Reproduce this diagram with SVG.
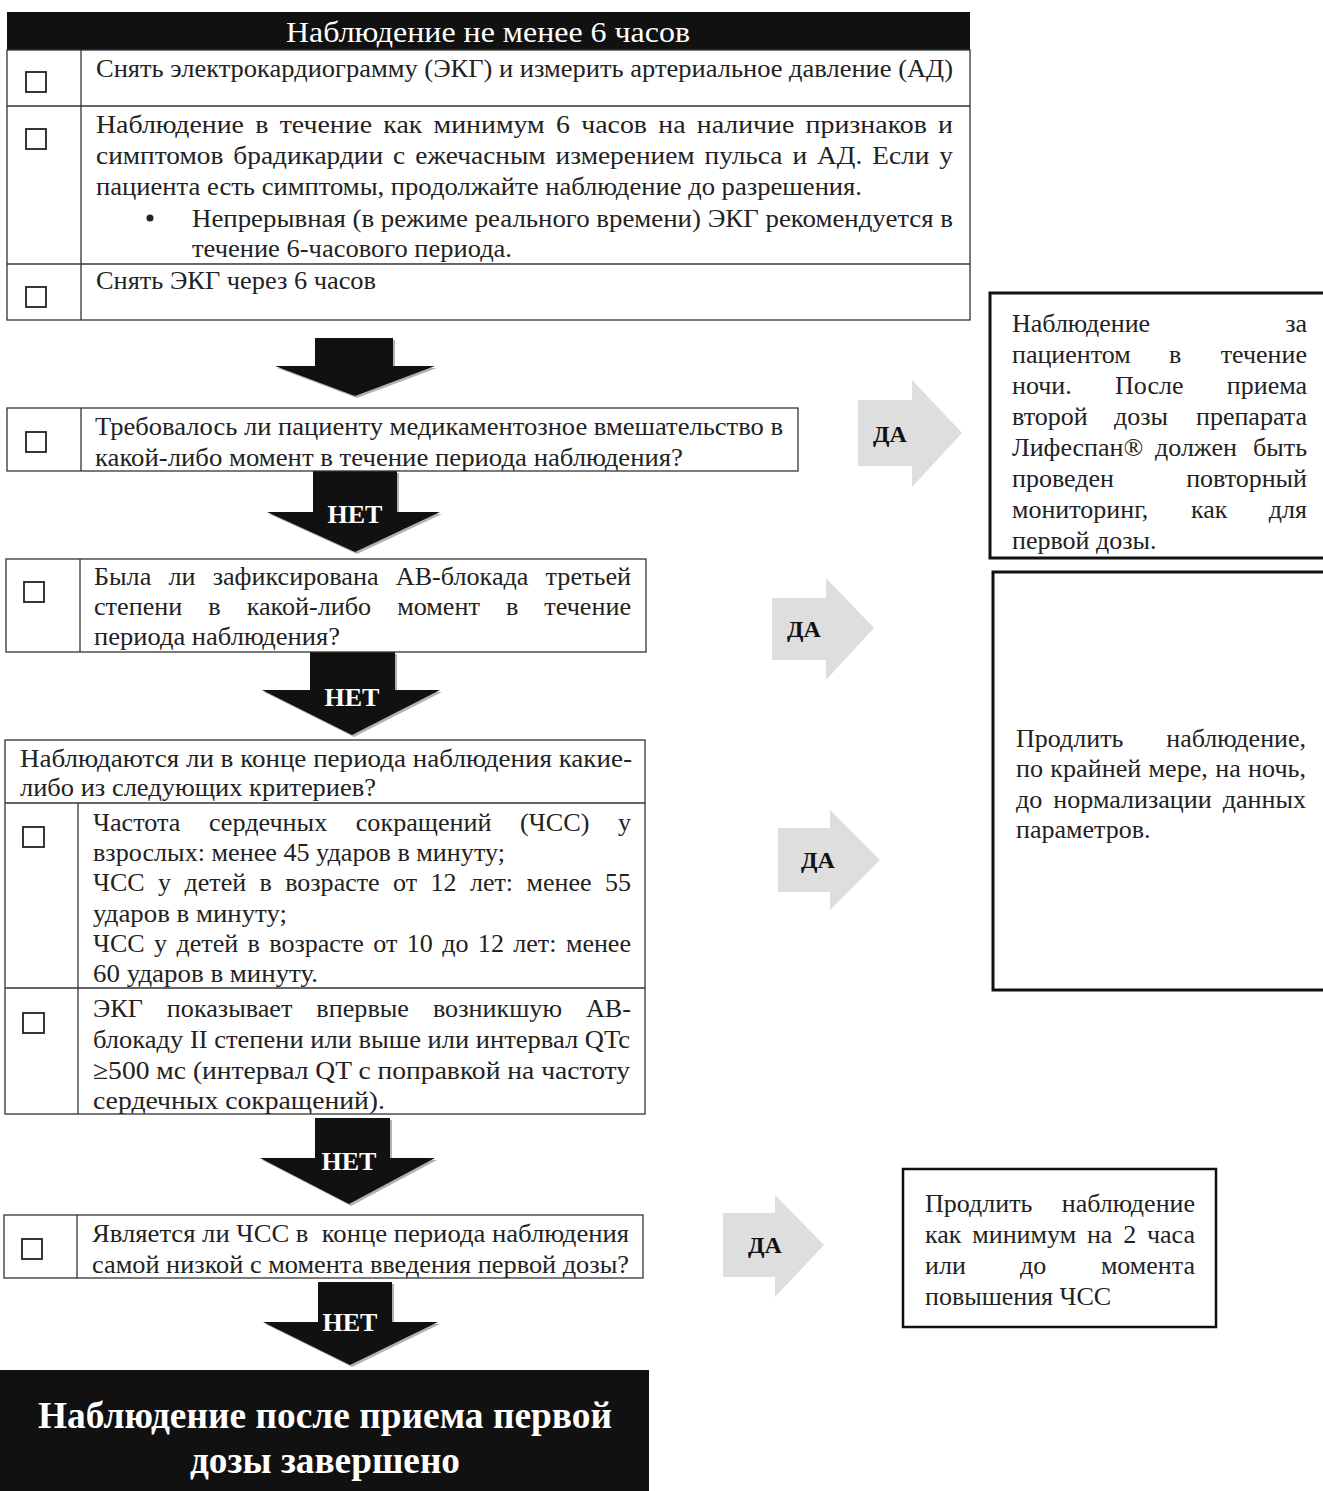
<svg xmlns="http://www.w3.org/2000/svg" width="1323" height="1491" viewBox="0 0 1323 1491">
<style>
.t{font-family:"Liberation Serif","Times New Roman",serif;font-size:26px;fill:#222}
.r{font-family:"Liberation Serif","Times New Roman",serif;font-size:26px;fill:#222}
.b{stroke:#333;stroke-width:1.3;fill:none}
.cb{stroke:#222;stroke-width:1.8;fill:#fff}
.rb{stroke:#111;stroke-width:3;fill:#fff}
.net{font-family:"Liberation Serif","Times New Roman",serif;font-weight:bold;font-size:26px;fill:#fff;text-anchor:middle}
.da{font-family:"Liberation Serif","Times New Roman",serif;font-weight:bold;font-size:24px;fill:#111;text-anchor:middle}
.ba{fill:#111}
.sh{fill:#666;opacity:.5}
.ga{fill:#dedede}
.e{text-anchor:end}
</style>
<rect width="1323" height="1491" fill="#fff"/>

<g id="connectors">
  <path class="sh" d="M317,340 H395 V368 H437 L357,398 L277,368 H317 Z"/>
  <path class="ba" d="M315,338 H393 V366 H435 L355,396 L275,366 H315 Z"/>
  <path class="sh" d="M315,473 H399 V514 H442 L357,554 L269,514 H315 Z"/>
  <path class="ba" d="M313,471 H397 V512 H440 L355,552 L267,512 H313 Z"/>
  <text class="net" x="355" y="523">НЕТ</text>
  <path class="sh" d="M312,654 H397 V692 H442 L354,737 L264,692 H312 Z"/>
  <path class="ba" d="M310,652 H395 V690 H440 L352,735 L262,690 H310 Z"/>
  <text class="net" x="352" y="706">НЕТ</text>
  <path class="sh" d="M317,1120 H392 V1160 H437 L351,1206 L262,1160 H317 Z"/>
  <path class="ba" d="M315,1118 H390 V1158 H435 L349,1204 L260,1158 H315 Z"/>
  <text class="net" x="349" y="1170">НЕТ</text>
  <path class="sh" d="M320,1284 H394 V1324 H440 L352,1367 L265,1324 H320 Z"/>
  <path class="ba" d="M318,1282 H392 V1322 H438 L350,1365 L263,1322 H318 Z"/>
  <text class="net" x="350" y="1331">НЕТ</text>

  <path class="ga" d="M858,400 H912 V380 L962,433 L912,487 V466 H858 Z"/>
  <text class="da" x="890" y="442">ДА</text>
  <path class="ga" d="M772,598 H826 V578 L874,628 L826,680 V660 H772 Z"/>
  <text class="da" x="804" y="637">ДА</text>
  <path class="ga" d="M778,828 H830 V810 L880,860 L830,910 V892 H778 Z"/>
  <text class="da" x="818" y="868">ДА</text>
  <path class="ga" d="M723,1213 H775 V1195 L824,1245 L775,1297 V1277 H723 Z"/>
  <text class="da" x="765" y="1253">ДА</text>
</g>

<g id="n-top">
  <rect x="7" y="12" width="963" height="38" fill="#111"/>
  <text x="488" y="42" text-anchor="middle" style="font-family:'Liberation Serif',serif;font-size:30px;fill:#fff" textLength="404" lengthAdjust="spacingAndGlyphs">Наблюдение не менее 6 часов</text>
  <rect class="b" x="7" y="50" width="963" height="270"/>
  <line class="b" x1="7" y1="106" x2="970" y2="106"/>
  <line class="b" x1="7" y1="264" x2="970" y2="264"/>
  <line class="b" x1="81" y1="50" x2="81" y2="320"/>
  <rect class="cb" x="26" y="72" width="20" height="20"/>
  <rect class="cb" x="26" y="129" width="20" height="20"/>
  <rect class="cb" x="26" y="287" width="20" height="20"/>
  <text class="t" x="96" y="77" textLength="857" lengthAdjust="spacingAndGlyphs">Снять электрокардиограмму (ЭКГ) и измерить артериальное давление (АД)</text>
  <text class="t" x="96" y="133" textLength="857" lengthAdjust="spacingAndGlyphs" word-spacing="4">Наблюдение в течение как минимум 6 часов на наличие признаков и</text>
  <text class="t" x="96" y="164" textLength="857" lengthAdjust="spacingAndGlyphs" word-spacing="3">симптомов брадикардии с ежечасным измерением пульса и АД. Если у</text>
  <text class="t" x="96" y="195" textLength="766" lengthAdjust="spacingAndGlyphs">пациента есть симптомы, продолжайте наблюдение до разрешения.</text>
  <circle cx="150" cy="218" r="3.5" fill="#222"/>
  <text class="t" x="192" y="227" textLength="761" lengthAdjust="spacingAndGlyphs">Непрерывная (в режиме реального времени) ЭКГ рекомендуется в</text>
  <text class="t" x="192" y="257" textLength="320" lengthAdjust="spacingAndGlyphs">течение 6-часового периода.</text>
  <text class="t" x="96" y="289" textLength="280" lengthAdjust="spacingAndGlyphs">Снять ЭКГ через 6 часов</text>
</g>

<g id="n-q1">
  <rect class="b" x="7" y="408" width="791" height="63"/>
  <line class="b" x1="81" y1="408" x2="81" y2="471"/>
  <rect class="cb" x="26" y="432" width="20" height="20"/>
  <text class="t" x="95" y="435" textLength="688" lengthAdjust="spacingAndGlyphs">Требовалось ли пациенту медикаментозное вмешательство в</text>
  <text class="t" x="95" y="466" textLength="588" lengthAdjust="spacingAndGlyphs">какой-либо момент в течение периода наблюдения?</text>
</g>

<g id="n-q2">
  <rect class="b" x="6" y="559" width="640" height="93"/>
  <line class="b" x1="80" y1="559" x2="80" y2="652"/>
  <rect class="cb" x="24" y="582" width="20" height="20"/>
  <text class="t" x="94" y="585" word-spacing="10.6" textLength="537" lengthAdjust="spacingAndGlyphs">Была ли зафиксирована АВ-блокада третьей</text>
  <text class="t" x="94" y="615" word-spacing="19.4" textLength="537" lengthAdjust="spacingAndGlyphs">степени в какой-либо момент в течение</text>
  <text class="t" x="94" y="645" textLength="246" lengthAdjust="spacingAndGlyphs">периода наблюдения?</text>
</g>

<g id="n-q3">
  <rect class="b" x="5" y="740" width="640" height="374"/>
  <line class="b" x1="5" y1="803" x2="645" y2="803"/>
  <line class="b" x1="5" y1="988" x2="645" y2="988"/>
  <line class="b" x1="78" y1="803" x2="78" y2="1114"/>
  <text class="t" x="20" y="767" textLength="612" lengthAdjust="spacingAndGlyphs">Наблюдаются ли в конце периода наблюдения какие-</text>
  <text class="t" x="20" y="796" textLength="356" lengthAdjust="spacingAndGlyphs">либо из следующих критериев?</text>
  <rect class="cb" x="23" y="827" width="21" height="20"/>
  <rect class="cb" x="23" y="1013" width="21" height="20"/>
  <text class="t" x="93" y="831" word-spacing="21.9" textLength="538" lengthAdjust="spacingAndGlyphs">Частота сердечных сокращений (ЧСС) у</text>
  <text class="t" x="93" y="861" textLength="412" lengthAdjust="spacingAndGlyphs">взрослых: менее 45 ударов в минуту;</text>
  <text class="t" x="93" y="891" word-spacing="6.9" textLength="538" lengthAdjust="spacingAndGlyphs">ЧСС у детей в возрасте от 12 лет: менее 55</text>
  <text class="t" x="93" y="922" textLength="194" lengthAdjust="spacingAndGlyphs">ударов в минуту;</text>
  <text class="t" x="93" y="952" word-spacing="2.9" textLength="538" lengthAdjust="spacingAndGlyphs">ЧСС у детей в возрасте от 10 до 12 лет: менее</text>
  <text class="t" x="93" y="982" textLength="225" lengthAdjust="spacingAndGlyphs">60 ударов в минуту.</text>
  <text class="t" x="93" y="1017" word-spacing="17.3" textLength="538" lengthAdjust="spacingAndGlyphs">ЭКГ показывает впервые возникшую АВ-</text>
  <text class="t" x="93" y="1048" textLength="537" lengthAdjust="spacingAndGlyphs">блокаду II степени или выше или интервал QTc</text>
  <text class="t" x="93" y="1079" textLength="537" lengthAdjust="spacingAndGlyphs">≥500 мс (интервал QT с поправкой на частоту</text>
  <text class="t" x="93" y="1109" textLength="292" lengthAdjust="spacingAndGlyphs">сердечных сокращений).</text>
</g>

<g id="n-q4">
  <rect class="b" x="4" y="1215" width="639" height="63"/>
  <line class="b" x1="77" y1="1215" x2="77" y2="1278"/>
  <rect class="cb" x="22" y="1239" width="20" height="20"/>
  <text class="t" x="92" y="1242" textLength="537" lengthAdjust="spacingAndGlyphs" xml:space="preserve">Является ли ЧСС в  конце периода наблюдения</text>
  <text class="t" x="92" y="1273" textLength="537" lengthAdjust="spacingAndGlyphs">самой низкой с момента введения первой дозы?</text>
</g>

<g id="n-end">
  <rect x="0" y="1370" width="649" height="121" fill="#111"/>
  <text x="325" y="1428" text-anchor="middle" style="font-family:'Liberation Serif',serif;font-weight:bold;font-size:38px;fill:#fff" textLength="574" lengthAdjust="spacingAndGlyphs">Наблюдение после приема первой</text>
  <text x="325" y="1473" text-anchor="middle" style="font-family:'Liberation Serif',serif;font-weight:bold;font-size:38px;fill:#fff" textLength="270" lengthAdjust="spacingAndGlyphs">дозы завершено</text>
</g>

<g id="n-r1">
  <rect class="rb" x="990" y="293" width="340" height="265"/>
  <text class="r" y="332"><tspan x="1012">Наблюдение</tspan> <tspan x="1307" text-anchor="end">за</tspan></text>
  <text class="r" y="363"><tspan x="1012">пациентом</tspan> <tspan x="1169">в</tspan> <tspan x="1307" text-anchor="end">течение</tspan></text>
  <text class="r" y="394"><tspan x="1012">ночи.</tspan> <tspan x="1115">После</tspan> <tspan x="1307" text-anchor="end">приема</tspan></text>
  <text class="r" y="425"><tspan x="1012">второй</tspan> <tspan x="1114">дозы</tspan> <tspan x="1307" text-anchor="end">препарата</tspan></text>
  <text class="r" y="456"><tspan x="1012">Лифеспан®</tspan> <tspan x="1155">должен</tspan> <tspan x="1307" text-anchor="end">быть</tspan></text>
  <text class="r" y="487"><tspan x="1012">проведен</tspan> <tspan x="1307" text-anchor="end">повторный</tspan></text>
  <text class="r" y="518"><tspan x="1012">мониторинг,</tspan> <tspan x="1191">как</tspan> <tspan x="1307" text-anchor="end">для</tspan></text>
  <text class="r" x="1012" y="549">первой дозы.</text>
</g>

<g id="n-r2">
  <rect class="rb" x="993" y="572" width="340" height="418"/>
  <text class="r" y="747"><tspan x="1016">Продлить</tspan> <tspan x="1306" text-anchor="end">наблюдение,</tspan></text>
  <text class="r" x="1016" y="777" word-spacing="0.8" textLength="290" lengthAdjust="spacingAndGlyphs">по крайней мере, на ночь,</text>
  <text class="r" x="1016" y="808" word-spacing="4.5" textLength="290" lengthAdjust="spacingAndGlyphs">до нормализации данных</text>
  <text class="r" x="1016" y="838">параметров.</text>
</g>

<g id="n-r3">
  <rect class="rb" x="903" y="1169" width="313" height="158" style="stroke-width:2.5"/>
  <text class="r" y="1212"><tspan x="925">Продлить</tspan> <tspan x="1195" text-anchor="end">наблюдение</tspan></text>
  <text class="r" x="925" y="1243" word-spacing="4.2" textLength="270" lengthAdjust="spacingAndGlyphs">как минимум на 2 часа</text>
  <text class="r" y="1274"><tspan x="925">или</tspan> <tspan x="1020">до</tspan> <tspan x="1195" text-anchor="end">момента</tspan></text>
  <text class="r" x="925" y="1305">повышения ЧСС</text>
</g>
</svg>
